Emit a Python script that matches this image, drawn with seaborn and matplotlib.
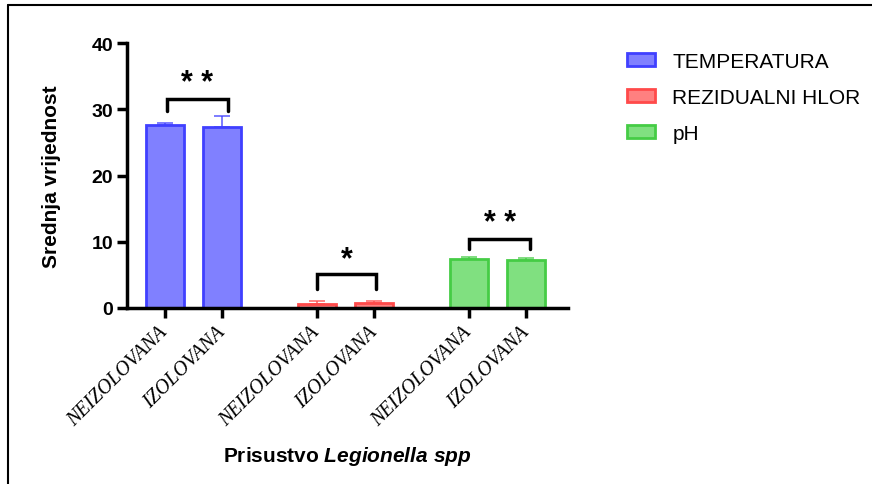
import numpy as np
import pandas as pd
import matplotlib
matplotlib.use("Agg")
import matplotlib.pyplot as plt
from matplotlib.patches import Patch
from matplotlib.lines import Line2D
import seaborn as sns

# data
groups = ['TEMPERATURA', 'TEMPERATURA', 'REZIDUALNI HLOR', 'REZIDUALNI HLOR', 'pH', 'pH']
tick_labels = ['NEIZOLOVANA', 'IZOLOVANA', 'NEIZOLOVANA', 'IZOLOVANA', 'NEIZOLOVANA', 'IZOLOVANA']
means = [27.7, 27.3, 0.6, 0.75, 7.35, 7.2]
errors = [0.2, 1.7, 0.5, 0.25, 0.4, 0.3]
positions = [0, 1, 2.667, 3.667, 5.333, 6.333]
significance = ['* *', '*', '* *']

fills = {'TEMPERATURA': '#8080ff', 'REZIDUALNI HLOR': '#ff8080', 'pH': '#80e080'}
edges = {'TEMPERATURA': '#4040ff', 'REZIDUALNI HLOR': '#ff4a4a', 'pH': '#45cc45'}

sns.set_theme(style='ticks')
plt.rcParams['font.family'] = ['Liberation Sans', 'DejaVu Sans']
plt.rcParams['mathtext.fontset'] = 'custom'
plt.rcParams['mathtext.it'] = 'Liberation Sans:italic:bold'
for k in ['text.color', 'axes.labelcolor', 'xtick.color', 'ytick.color', 'axes.edgecolor']:
    plt.rcParams[k] = 'black'

df = pd.DataFrame({'pos': positions, 'mean': means, 'group': groups})

fig = plt.figure(figsize=(8.72, 4.85), dpi=100)
ax = fig.add_axes([0.1456, 0.363, 0.506, 0.546])

sns.barplot(data=df, x='pos', y='mean', hue='group', native_scale=True, dodge=False,
            width=0.667, palette=fills, saturation=1, legend=False, ax=ax, errorbar=None)
# recolour edges per group
for p in ax.patches:
    fc = matplotlib.colors.to_hex(p.get_facecolor())
    for g, c in fills.items():
        if fc == c:
            p.set_edgecolor(edges[g])
            p.set_linewidth(2)

for g in fills:
    sub = df[df['group'] == g]
    err = [e for e, gg in zip(errors, groups) if gg == g]
    ax.errorbar(sub['pos'], sub['mean'], yerr=[np.zeros(len(err)), err], fmt='none',
                ecolor=edges[g], elinewidth=1.2, capsize=6, capthick=1.2, alpha=0.8)

# significance brackets
brackets = [(0.03, 1.1, 29.7, 31.5, 34.0), (2.667, 3.7, 2.9, 5.1, 7.4), (5.333, 6.4, 8.9, 10.4, 12.8)]
for (x0, x1, yl, yh, ys), s in zip(brackets, significance):
    ax.plot([x0, x0, x1, x1], [yl, yh, yh, yl], color='black', lw=2.5, solid_joinstyle='miter', clip_on=False)
    ax.text((x0 + x1) / 2, ys, s, ha='center', va='center', fontsize=22, fontweight='bold')

ax.set_xlim(-0.667, 7.07)
ax.set_ylim(0, 40)
ax.set_yticks([0, 10, 20, 30, 40])
ax.set_xticks(positions)
ax.set_xticklabels(tick_labels, rotation=45, ha='right', va='center', rotation_mode='anchor',
                   family='Liberation Serif', style='italic', fontsize=14.5)
for lab in ax.get_yticklabels():
    lab.set_fontweight('bold')
    lab.set_fontsize(14)
sns.despine(ax=ax)
for sp in ['left', 'bottom']:
    ax.spines[sp].set_linewidth(2.5)
ax.tick_params(axis='both', width=2.5, length=7, color='black')
ax.tick_params(axis='x', pad=8)
ax.tick_params(axis='y', pad=3)

ax.set_ylabel('Srednja vrijednost', fontsize=15, fontweight='bold', labelpad=22)
ax.set_xlabel('Prisustvo $\\mathit{Legionella\\ spp}$', fontsize=15, fontweight='bold', labelpad=11)

handles = [Patch(facecolor=fills[g], edgecolor=edges[g], linewidth=2, label=g) for g in fills]
fig.legend(handles=handles, loc='upper left', bbox_to_anchor=(0.71, 0.908), frameon=False,
           borderaxespad=0, fontsize=15, handlelength=1.3, handleheight=0.6, handletextpad=0.85,
           labelspacing=0.82)

# partial frame, top and left only
fig.add_artist(Line2D([0.009, 1.0], [0.988, 0.988], color='black', lw=1.5, transform=fig.transFigure))
fig.add_artist(Line2D([0.009, 0.009], [0.0, 0.988], color='black', lw=1.5, transform=fig.transFigure))

fig.savefig('out.png', dpi=100)
